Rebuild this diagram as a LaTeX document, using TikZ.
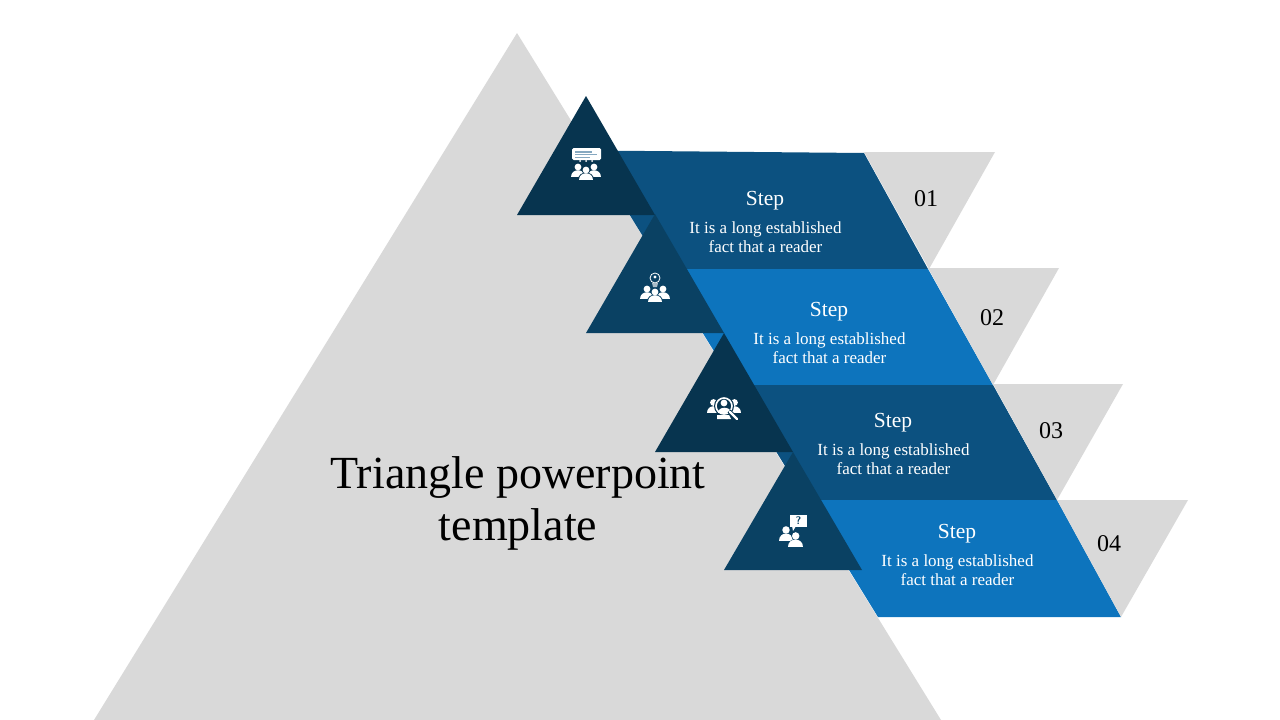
\documentclass[tikz,border=0pt]{standalone}
\usepackage{fontspec}
\setmainfont{Liberation Serif}
\definecolor{greyback}{HTML}{D9D9D9}
\definecolor{darknavy}{HTML}{07344F}
\definecolor{midnavy}{HTML}{0A4163}
\definecolor{darkband}{HTML}{0C5180}
\definecolor{lightband}{HTML}{0D74BD}
\colorlet{iconback}{midnavy}
\tikzset{
  headline/.style={font=\fontsize{21.5}{21.5}\selectfont,text=white},
  bodytext/.style={font=\fontsize{17}{19}\selectfont,text=white,align=center},
  numlabel/.style={font=\fontsize{24}{24}\selectfont,text=black},
  person/.pic={
    \fill[white] (0,-5.5) circle (3.4);
    \fill[white] (-6.7,4.5) .. controls (-6.7,-4.2) and (6.7,-4.2) .. (6.7,4.5) -- cycle;
  },
  crowd/.pic={
    \path (-8,-3) pic {person};
    \path (8,-3) pic {person};
    \fill[iconback] (0,-5.5) circle (4.3);
    \fill[iconback] (-8.2,4.5) .. controls (-8.2,-6) and (8.2,-6) .. (8.2,4.5) -- cycle;
    \path (0,0) pic {person};
  }
}
\begin{document}
\begin{tikzpicture}[x=1pt,y=-1pt]
  \useasboundingbox (0,0) rectangle (1280,720);
  \fill[greyback] (517,33) -- (941,720) -- (94,720) -- cycle;
  % bands
  \fill[darkband]  (590,150.5) -- (864,153) -- (928,269) -- (663,269) -- cycle;
  \fill[lightband] (663,269) -- (928,269) -- (993,385) -- (735,385) -- cycle;
  \fill[darkband]  (735,385) -- (993,385) -- (1057,500) -- (806,500) -- cycle;
  \fill[lightband] (806,500) -- (1057,500) -- (1121,617) -- (878,617) -- cycle;
  % grey tips
  \fill[greyback] (864,152) -- (995,152) -- (929,269) -- cycle;
  \fill[greyback] (928,268) -- (1059,268) -- (993,385) -- cycle;
  \fill[greyback] (993,384) -- (1123,384) -- (1057,500) -- cycle;
  \fill[greyback] (1057,500) -- (1188,500) -- (1121,617) -- cycle;
  % triangles
  \fill[darknavy] (586,96) -- (655,215) -- (517,215) -- cycle;
  \fill[midnavy]  (655,214) -- (724,333) -- (586,333) -- cycle;
  \fill[darknavy] (724,333) -- (793,452) -- (655,452) -- cycle;
  \fill[midnavy]  (793,452) -- (862,570) -- (724,570) -- cycle;

  % first icon
  \fill[white,rounded corners=1.5] (572,148) rectangle (601,160);
  \fill[white] (580,161) circle (1);
  \fill[white] (586,161) circle (1);
  \fill[white] (592,161) circle (1);
  \draw[darkband!50,line width=1.3] (575,152) -- (592,152);
  \draw[darkband!50,line width=1.3] (575,154.8) -- (597,154.8);
  \draw[darkband!50,line width=1.3] (575,157.6) -- (590,157.6);
  \colorlet{iconback}{darknavy}
  \path (586,175.5) pic {crowd};
  % second icon
  \colorlet{iconback}{midnavy}
  \path (655,297.5) pic {crowd};
  \draw[white,line width=.8] (655,278) circle (5);
  \fill[white] (655,277) circle (1.6);
  \fill[white!65!midnavy] (652,283) -- (658,283) -- (657,287) -- (653,287) -- cycle;
  % third icon
  \path (713.5,408) pic {person};
  \path (734.5,408) pic {person};
  \fill[darknavy] (724,406) circle (10);
  \draw[white,line width=1.6] (724,406) circle (8);
  \fill[white] (724,403) circle (3.4);
  \fill[white] (717.5,413) .. controls (717.5,405.5) and (730.5,405.5) .. (730.5,413) -- cycle;
  \fill[white] (717,415) -- (729,415) -- (731,419) -- (717,419) -- cycle;
  \draw[darknavy,line width=4] (729,411) -- (737,419);
  \draw[white,line width=2.4,line cap=round] (730,412) -- (737,419);
  % fourth icon
  \fill[white] (790,515) rectangle (807,527);
  \fill[white] (792,526) -- (796,526) -- (793,531) -- cycle;
  \node[text=midnavy,inner sep=0pt,font=\fontsize{11}{11}\selectfont\sffamily\bfseries] (query) at (798.5,521) {?};
  \path (786,536) pic[scale=1.1] {person};
  \fill[midnavy] (795.7,535.7) circle (4.5);
  \fill[midnavy] (786.5,548) .. controls (786.5,536) and (804.5,536) .. (804.5,548) -- cycle;
  \path (795.7,542) pic[scale=1.1] {person};

  \node[font=\fontsize{46}{52}\selectfont,align=center] (title) at (518,503)
    {Triangle powerpoint\\template};

  \node[headline] (stepa) at (765,201) {Step};
  \node[bodytext] (texta) at (765.5,237.5) {It is a long established\\fact that a reader};
  \node[numlabel] (numa) at (926,199) {01};
  \node[headline] (stepb) at (829,312) {Step};
  \node[bodytext] (textb) at (829.5,348.5) {It is a long established\\fact that a reader};
  \node[numlabel] (numb) at (992,318) {02};
  \node[headline] (stepc) at (893,423) {Step};
  \node[bodytext] (textc) at (893.5,459.5) {It is a long established\\fact that a reader};
  \node[numlabel] (numc) at (1051,431) {03};
  \node[headline] (stepd) at (957,534) {Step};
  \node[bodytext] (textd) at (957.5,570.5) {It is a long established\\fact that a reader};
  \node[numlabel] (numd) at (1109,544) {04};
\end{tikzpicture}
\end{document}
